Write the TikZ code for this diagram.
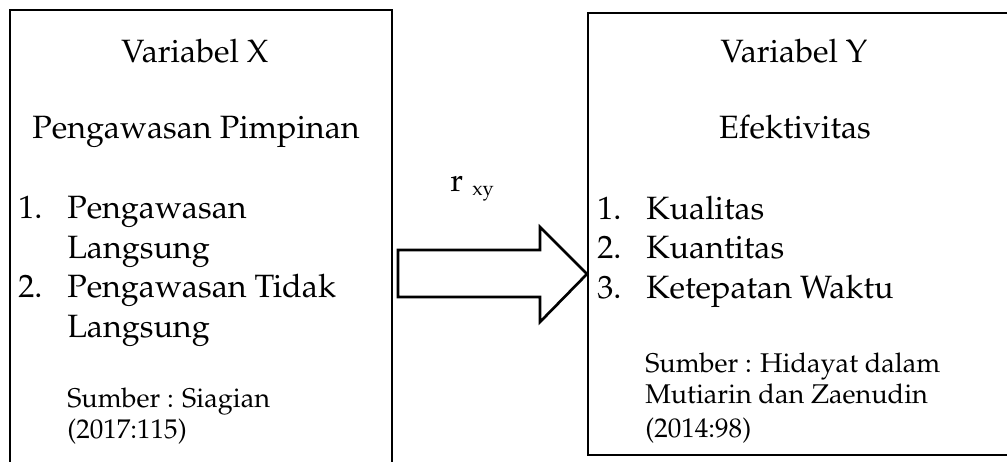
\documentclass[tikz,border=0pt]{standalone}
\usepackage[T1]{fontenc}
\usepackage{mathpazo}
\begin{document}
\begin{tikzpicture}[x=0.75pt,y=-0.75pt,
  big/.style={font=\fontsize{24.2}{28}\selectfont, anchor=base west, inner sep=0pt},
  bigc/.style={font=\fontsize{24.2}{28}\selectfont, anchor=base, inner sep=0pt},
  small/.style={font=\fontsize{20.3}{24}\selectfont, anchor=base west, inner sep=0pt},
  subs/.style={font=\fontsize{15}{18}\selectfont, anchor=base west, inner sep=0pt},
  frame/.style={draw, line width=2pt},
  blockarrow/.style={draw, line width=2pt, line join=miter, fill=white}]
\useasboundingbox (0,0) rectangle (1007,461);
\begin{scope}
\clip (0,0) rectangle (1007,461);
% boxes
\coordinate (xtl) at (10,10);
\coordinate (xbr) at (392,480);
\coordinate (ytl) at (588,13);
\coordinate (ybr) at (1012,455);
\draw[frame] (xtl) rectangle (xbr);
\draw[frame] (ytl) rectangle (ybr);
\end{scope}
% left box texts
\node[bigc] (xh) at (195,62) {Variabel X};
\node[bigc] (xs) at (196,138) {Pengawasan Pimpinan};
\node[big] (xn1) at (18,218) {1.};
\node[big] (xi1) at (67,218) {Pengawasan};
\node[big] (xi1b) at (67,258) {Langsung};
\node[big] (xn2) at (18,297) {2.};
\node[big] (xi2) at (67,297) {Pengawasan Tidak};
\node[big] (xi2b) at (67,337) {Langsung};
\node[small] (xsrc1) at (67,407) {Sumber : Siagian};
\node[small] (xsrc2) at (67,438) {(2017:115)};
% right box texts
\node[bigc] (yh) at (794,62) {Variabel Y};
\node[bigc] (ys) at (795,138) {Efektivitas};
\node[big] (yn1) at (597,219) {1.};
\node[big] (yi1) at (646,219) {Kualitas};
\node[big] (yn2) at (597,258) {2.};
\node[big] (yi2) at (646,258) {Kuantitas};
\node[big] (yn3) at (597,298) {3.};
\node[big] (yi3) at (646,298) {Ketepatan Waktu};
\node[small] (ysrc1) at (645,372) {Sumber : Hidayat dalam};
\node[small] (ysrc2) at (645,403) {Mutiarin dan Zaenudin};
\node[small] (ysrc3) at (645,437) {(2014:98)};
% arrow
\coordinate (a0) at (398,250);
\coordinate (a1) at (540,250);
\coordinate (a2) at (540,227);
\coordinate (tip) at (587,274);
\coordinate (a3) at (540,322);
\coordinate (a4) at (540,297);
\coordinate (a5) at (398,297);
\draw[blockarrow] (a0) -- (a1) -- (a2) -- (tip) -- (a3) -- (a4) -- (a5) -- cycle;
\node[big] (r) at (450,191) {r};
\node[subs] (rxy) at (472,195) {xy};
\end{tikzpicture}
\end{document}
